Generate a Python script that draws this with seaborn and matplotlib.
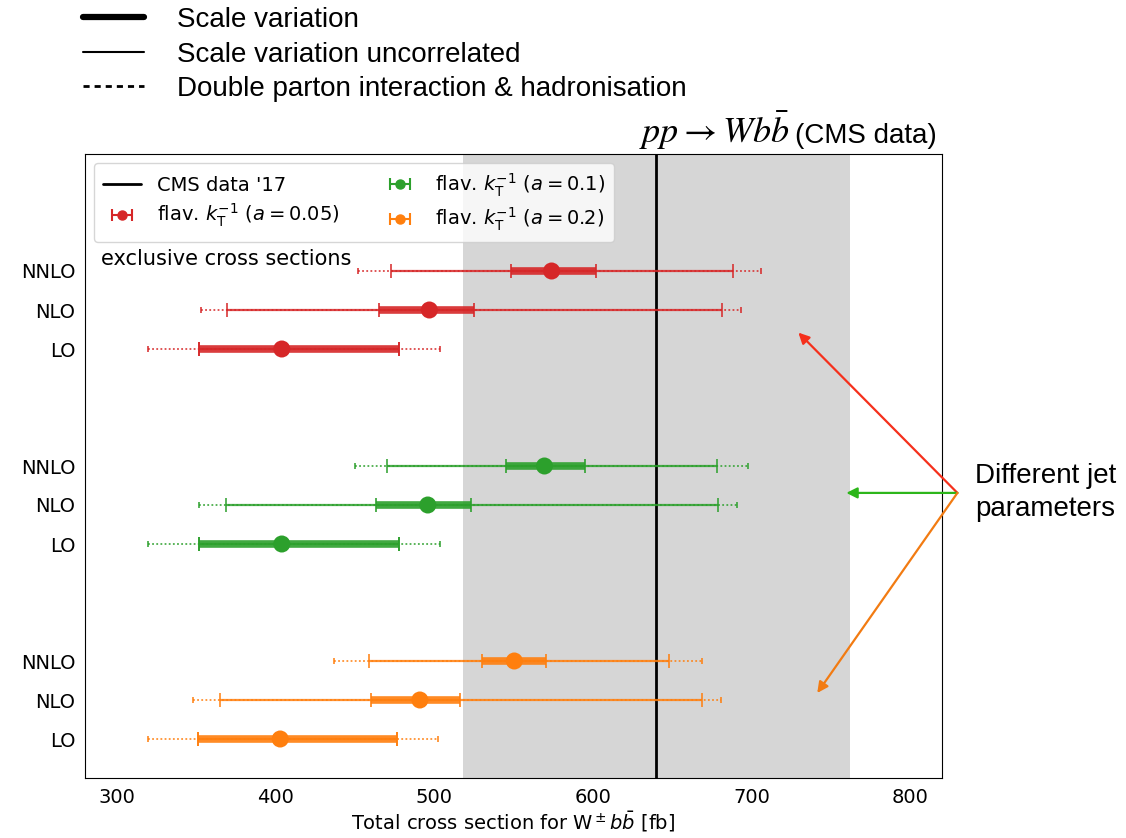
import numpy as np
import pandas as pd
import matplotlib
matplotlib.use("Agg")
import matplotlib.pyplot as plt
import seaborn as sns
from matplotlib.lines import Line2D

# Orders and their y positions (LO at the bottom of each block)
orders = ['LO', 'NLO', 'NNLO']
block_offsets = {'a=0.05': 10, 'a=0.1': 5, 'a=0.2': 0}
groups = ['a=0.05', 'a=0.1', 'a=0.2']
group_labels = [r'flav. $k_\mathrm{T}^{-1}$ ($a = 0.05$)',
                r'flav. $k_\mathrm{T}^{-1}$ ($a = 0.1$)',
                r'flav. $k_\mathrm{T}^{-1}$ ($a = 0.2$)']
group_colors = ['#d62728', '#2ca02c', '#ff7f0e']

# Central values [fb], per group, ordered LO, NLO, NNLO
central = {'a=0.05': [404, 497, 574],
           'a=0.1': [404, 496, 569.5],
           'a=0.2': [403, 491, 550.5]}
# Scale variation (thick)
scale_lo = {'a=0.05': [352, 465, 548.5], 'a=0.1': [352, 463.5, 545], 'a=0.2': [351, 460.5, 530]}
scale_hi = {'a=0.05': [478, 525, 602], 'a=0.1': [478, 523, 595], 'a=0.2': [476.5, 516.5, 570.5]}
# Scale variation uncorrelated (thin)
uncor_lo = {'a=0.05': [352, 369.5, 473], 'a=0.1': [352, 369, 470.5], 'a=0.2': [351, 365, 459]}
uncor_hi = {'a=0.05': [478, 681.5, 688], 'a=0.1': [478, 679, 678.5], 'a=0.2': [476.5, 669, 648]}
# Double parton interaction & hadronisation (dotted)
dpi_lo = {'a=0.05': [320, 353, 452], 'a=0.1': [320, 352, 450], 'a=0.2': [319.5, 348, 437]}
dpi_hi = {'a=0.05': [504, 693.5, 706], 'a=0.1': [504, 691, 698], 'a=0.2': [502.5, 681, 669]}

cms_value = 640
cms_err = 122

rows = []
for g in groups:
    for i, o in enumerate(orders):
        rows.append(dict(group=g, order=o, y=block_offsets[g] + i, center=central[g][i],
                         s_lo=scale_lo[g][i], s_hi=scale_hi[g][i],
                         u_lo=uncor_lo[g][i], u_hi=uncor_hi[g][i],
                         d_lo=dpi_lo[g][i], d_hi=dpi_hi[g][i]))
df = pd.DataFrame(rows)

sns.set_style("white", {"text.color": "black", "axes.labelcolor": "black",
                        "xtick.color": "black", "ytick.color": "black",
                        "axes.edgecolor": "black"})
plt.rcParams['font.family'] = ['DejaVu Sans']

W, H = 1126, 838
fig = plt.figure(figsize=(W / 100, H / 100), dpi=100)
ax = fig.add_axes([85 / W, 60 / H, 857 / W, 624 / H])

ax.axvspan(cms_value - cms_err, cms_value + cms_err, color='#d6d6d6', zorder=0, lw=0)
ax.axvline(cms_value, color='black', lw=2, zorder=3)

pal = dict(zip(groups, group_colors))
for _, r in df.iterrows():
    col = pal[r['group']]
    eb = ax.errorbar(r['center'], r['y'], xerr=[[r['center'] - r['d_lo']], [r['d_hi'] - r['center']]],
                     fmt='none', ecolor=col, elinewidth=1.3, capsize=2.2, capthick=1.3, alpha=0.85, zorder=2)
    eb[2][0].set_linestyle((0, (1, 1.3)))
    ax.errorbar(r['center'], r['y'], xerr=[[r['center'] - r['u_lo']], [r['u_hi'] - r['center']]],
                fmt='none', ecolor=col, elinewidth=1.6, capsize=5, capthick=1.3, alpha=0.85, zorder=4)
    ax.errorbar(r['center'], r['y'], xerr=[[r['center'] - r['s_lo']], [r['s_hi'] - r['center']]],
                fmt='none', ecolor=col, elinewidth=5.5, capsize=5, capthick=1.3, alpha=0.9, zorder=4)

sns.scatterplot(data=df, x='center', y='y', hue='group', palette=pal, s=150, linewidth=0,
                legend=False, zorder=6, ax=ax)

# legend proxies
handles = [Line2D([], [], color='black', lw=2)]
for g, c in zip(groups, group_colors):
    handles.append(ax.errorbar([np.nan], [np.nan], xerr=[[1]], fmt='o', color=c, ms=6.5,
                               elinewidth=1.5, capsize=4, capthick=1.5))
labels = ["CMS data '17"] + group_labels
ax.legend(handles, labels, ncol=2, loc='upper left', fontsize=14, handlelength=2.0,
          columnspacing=2.1, borderpad=0.45, labelspacing=0.35, framealpha=0.8,
          edgecolor='#cccccc', borderaxespad=0.45)

ax.text(290, 12.3, 'exclusive cross sections', fontsize=15, va='center', ha='left')

ax.set_xlim(280, 820)
ax.set_ylim(-1, 15)
ax.set_yticks(df['y'])
ax.set_yticklabels(df['order'])
ax.set_xticks([300, 400, 500, 600, 700, 800])
ax.tick_params(labelsize=14)
ax.set_xlabel(r'Total cross section for W$^\pm b\bar{b}$ [fb]', fontsize=14, labelpad=2)
ax.set_ylabel('')

# arrows to the three blocks
origin = (829.7, 6.31)
arrow_heads = [(729.5, 10.42), (759.7, 6.31), (741.4, 1.18)]
arrow_cols = ['#f5301c', '#2db61a', '#f27b12']
for head, c in zip(arrow_heads, arrow_cols):
    ax.annotate('', xy=head, xytext=origin, annotation_clip=False,
                arrowprops=dict(arrowstyle='-|>', color=c, lw=1.6, shrinkA=0, shrinkB=0,
                                mutation_scale=16))
ax.text(841, 6.31, 'Different jet\nparameters', fontsize=20, va='center', ha='left',
        family='Liberation Sans', linespacing=1.35, clip_on=False)

# title
t2 = fig.text(937 / W, 1 - 143 / H, '(CMS data)', fontsize=20, family='Liberation Sans',
              ha='right', va='baseline')
fig.canvas.draw()
bb = t2.get_window_extent()
fig.text((bb.x0 - 6) / W, 1 - 143 / H, r'$pp \to Wb\bar{b}$', fontsize=26,
         math_fontfamily='stix', ha='right', va='baseline')

# top key
key_handles = [Line2D([], [], color='black', lw=4.5),
               Line2D([], [], color='black', lw=1.5),
               Line2D([], [], color='black', lw=2, ls=(0, (2.2, 1.8)))]
key_labels = ['Scale variation', 'Scale variation uncorrelated',
              'Double parton interaction & hadronisation']
fig.legend(key_handles, key_labels, loc='upper left', bbox_to_anchor=(83 / W, 1 - 7 / H),
           frameon=False, prop={'family': 'Liberation Sans', 'size': 20}, borderpad=0,
           borderaxespad=0, handlelength=2.2, handletextpad=1.2, labelspacing=0.31)

fig.savefig('out.png', dpi=100)
